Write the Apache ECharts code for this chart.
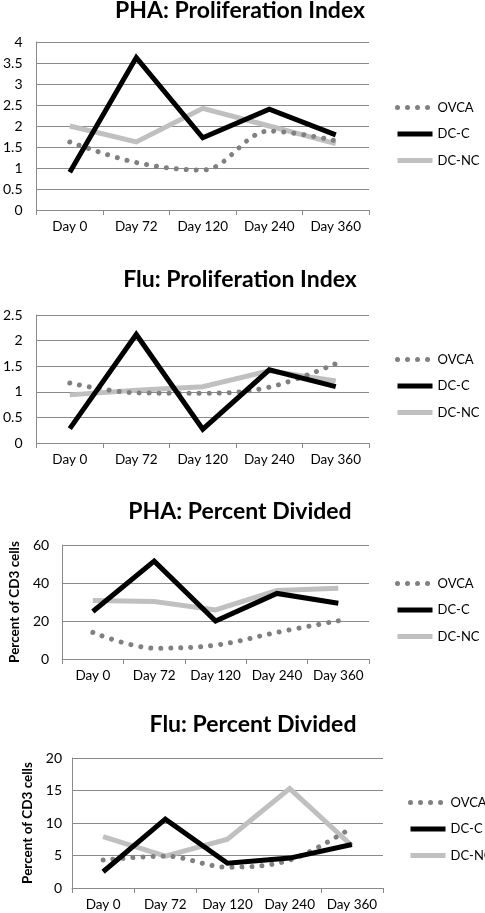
<!DOCTYPE html>
<html>
<head>
<meta charset="utf-8">
<script src="https://cdn.jsdelivr.net/npm/echarts@6/dist/echarts.min.js"></script>
<style>
html,body{margin:0;padding:0;background:#fff;}
#c{width:485px;height:913px;}
</style>
</head>
<body>
<div id="c"></div>
<script>
var categories = ['Day 0', 'Day 72', 'Day 120', 'Day 240', 'Day 360'];
var seriesNames = ['OVCA', 'DC-C', 'DC-NC'];
var titles = ['PHA: Proliferation Index', 'Flu: Proliferation Index', 'PHA: Percent Divided', 'Flu: Percent Divided'];
var yAxisNames = ['', '', 'Percent of CD3 cells', 'Percent of CD3 cells'];
var yMax = [4, 2.5, 60, 20];
var yInterval = [0.5, 0.5, 20, 5];

var ovcaPHAIndex = [1.62, 1.13, 0.95, 1.88, 1.65];
var dccPHAIndex = [0.9, 3.63, 1.72, 2.4, 1.79];
var dcncPHAIndex = [2.0, 1.62, 2.42, 2.0, 1.58];

var ovcaFluIndex = [1.17, 0.98, 0.97, 1.09, 1.55];
var dccFluIndex = [0.28, 2.12, 0.27, 1.43, 1.10];
var dcncFluIndex = [0.94, 1.03, 1.10, 1.41, 1.21];

var ovcaPHAPct = [14, 5.7, 7.3, 14, 20.1];
var dccPHAPct = [25, 51.5, 20, 34.5, 29.3];
var dcncPHAPct = [30.8, 30.3, 25.8, 36, 37.2];

var ovcaFluPct = [4.3, 4.9, 3.2, 4.3, 9.3];
var dccFluPct = [2.5, 10.6, 3.8, 4.6, 6.7];
var dcncFluPct = [7.9, 4.9, 7.5, 15.3, 6.5];

var panelData = [
  [ovcaPHAIndex, dccPHAIndex, dcncPHAIndex],
  [ovcaFluIndex, dccFluIndex, dcncFluIndex],
  [ovcaPHAPct, dccPHAPct, dcncPHAPct],
  [ovcaFluPct, dccFluPct, dcncFluPct]
];

var FONT = 'Lato';
var layout = [
  {titleX: 240, titleY: -1, left: 31, right: 116, top: 42, height: 168, legX: 395, legY: 101, nameGap: 36, labMargin: 14},
  {titleX: 240, titleY: 268, left: 31, right: 116, top: 315, height: 128, legX: 395, legY: 353, nameGap: 36, labMargin: 14},
  {titleX: 240, titleY: 500, left: 58, right: 116, top: 545, height: 114, legX: 395, legY: 577, nameGap: 36, labMargin: 13},
  {titleX: 253, titleY: 713, left: 72, right: 102, top: 758, height: 130, legX: 408, legY: 796, nameGap: 36, labMargin: 10}
];

var option = {
  backgroundColor: '#fff',
  animation: false,
  title: [], legend: [], grid: [], xAxis: [], yAxis: [], series: []
};

var styles = [
  {color: '#808080', width: 5, type: [0.01, 10], cap: 'round', smooth: 0.35},
  {color: '#000000', width: 5, type: 'solid', cap: 'butt', smooth: false},
  {color: '#c0c0c0', width: 5, type: 'solid', cap: 'butt', smooth: false}
];

for (var p = 0; p < 4; p++) {
  var L = layout[p];
  option.title.push({
    text: titles[p], left: L.titleX, top: L.titleY, textAlign: 'center', padding: 0,
    textStyle: {fontFamily: FONT, fontWeight: 'bold', fontSize: 23, color: '#000'}
  });
  option.legend.push({
    data: seriesNames, orient: 'vertical', left: L.legX, top: L.legY, padding: 0,
    itemWidth: 35, itemHeight: 14, itemGap: 13.5, selectedMode: false,
    itemStyle: {opacity: 0},
    lineStyle: {width: 5},
    textStyle: {fontFamily: FONT, fontSize: 13, color: '#000'}
  });
  option.grid.push({left: L.left, right: L.right, top: L.top, height: L.height, containLabel: false});
  option.xAxis.push({
    type: 'category', gridIndex: p, data: categories, boundaryGap: true,
    axisLine: {lineStyle: {color: '#8a8a8a', width: 1}},
    axisTick: {show: true, length: 5, lineStyle: {color: '#8a8a8a'}},
    axisLabel: {fontFamily: FONT, fontSize: 13.5, color: '#000', margin: 10, interval: 0}
  });
  option.yAxis.push({
    type: 'value', gridIndex: p, min: 0, max: yMax[p], interval: yInterval[p],
    name: yAxisNames[p], nameLocation: 'middle', nameGap: L.nameGap, nameRotate: 90,
    nameTextStyle: {fontFamily: FONT, fontWeight: 'bold', fontSize: 13.5, color: '#000'},
    axisLine: {show: true, lineStyle: {color: '#8a8a8a', width: 1}},
    axisTick: {show: false},
    splitLine: {show: true, lineStyle: {color: '#8a8a8a', width: 1}},
    axisLabel: {fontFamily: FONT, fontSize: 14, color: '#000', margin: L.labMargin}
  });
  for (var s = 0; s < 3; s++) {
    var st = styles[s];
    option.series.push({
      name: seriesNames[s], type: 'line', xAxisIndex: p, yAxisIndex: p,
      data: panelData[p][s], symbol: 'none', smooth: st.smooth,
      z: s === 0 ? 3 : (s === 1 ? 4 : 2),
      color: st.color,
      lineStyle: {color: st.color, width: st.width, type: st.type, cap: st.cap, join: 'miter'}
    });
  }
}

var chart = echarts.init(document.getElementById('c'), null, {renderer: 'canvas'});
chart.setOption(option);
</script>
</body>
</html>
